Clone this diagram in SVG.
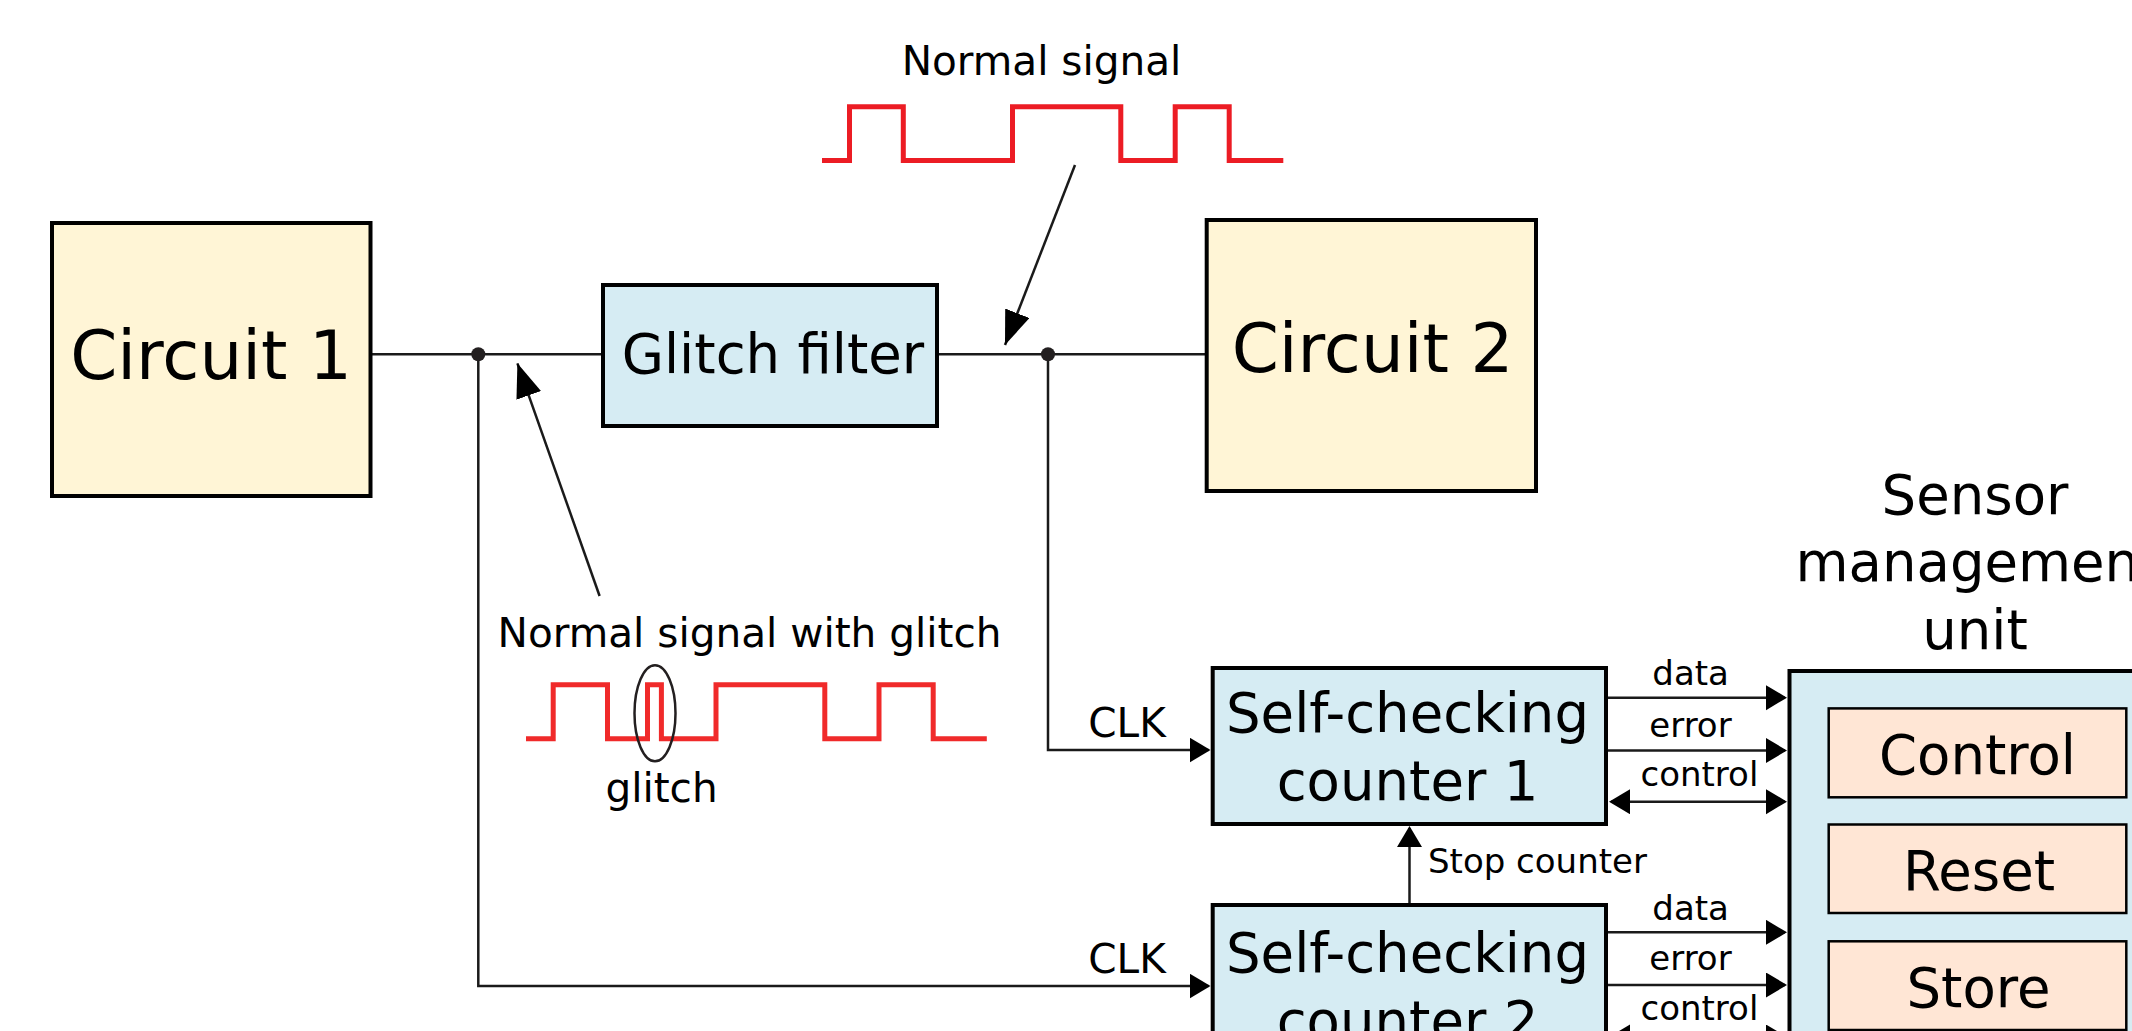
<svg xmlns="http://www.w3.org/2000/svg" width="2132" height="1031" viewBox="0 0 2132 1031">
<style>
text{font-family:"DejaVu Sans","Liberation Sans",sans-serif;fill:#000}
.box{stroke:#000;stroke-width:4}
.cream{fill:#fff5d6}
.blue{fill:#d6ecf3}
.peach{fill:#ffe6d5;stroke:#000;stroke-width:2.5}
.wire{fill:none;stroke:#1a1a1a;stroke-width:2.5}
.wave{fill:none;stroke:#ec1c24;stroke-width:5;stroke-linejoin:miter}
.t66{font-size:67.5px}
.t54{font-size:54.5px}
.t40{font-size:40.6px}
.t32{font-size:34px}
</style>
<defs>
<marker id="arr" markerUnits="userSpaceOnUse" markerWidth="22" markerHeight="26" refX="19" refY="12.5" orient="auto-start-reverse">
<path d="M0,0 L21,12.5 L0,25 z" fill="#000"/>
</marker>
<marker id="big" markerUnits="userSpaceOnUse" markerWidth="36" markerHeight="28" refX="34" refY="13" orient="auto">
<path d="M0,0 L34,13 L0,26 z" fill="#000"/>
</marker>
</defs>

<g id="connectors">
<path class="wire" d="M370,354.3 H603"/>
<path class="wire" d="M937,354.3 H1207"/>
<path class="wire" d="M1048,354.3 V750 H1208.5" marker-end="url(#arr)"/>
<path class="wire" d="M478.3,354.3 V986 H1208.5" marker-end="url(#arr)"/>
<circle cx="478.3" cy="354.3" r="7" fill="#231f20"/>
<circle cx="1048" cy="354.3" r="7" fill="#231f20"/>
<path class="wire" d="M1409.5,903 V828" marker-end="url(#arr)"/>
<path class="wire" d="M1608,697.7 H1785" marker-end="url(#arr)"/>
<path class="wire" d="M1608,750.5 H1785" marker-end="url(#arr)"/>
<path class="wire" d="M1611,801.7 H1785" marker-start="url(#arr)" marker-end="url(#arr)"/>
<path class="wire" d="M1608,932.3 H1785" marker-end="url(#arr)"/>
<path class="wire" d="M1608,985 H1785" marker-end="url(#arr)"/>
<path class="wire" d="M1611,1037 H1785" marker-start="url(#arr)" marker-end="url(#arr)"/>
<path class="wire" d="M1075,165 L1005,345" marker-end="url(#big)"/>
<path class="wire" d="M599.6,596 L517.4,363.3" marker-end="url(#big)"/>
</g>

<g id="circuit1">
<rect class="box cream" x="52" y="223" width="318.5" height="273"/>
<text class="t66" x="211" y="379" text-anchor="middle">Circuit 1</text>
</g>

<g id="glitch-filter">
<rect class="box blue" x="603" y="285" width="334" height="141"/>
<text class="t54" x="773" y="372.7" text-anchor="middle">Glitch filter</text>
</g>

<g id="circuit2">
<rect class="box cream" x="1206.7" y="220" width="329.3" height="271"/>
<text class="t66" x="1372.5" y="372" text-anchor="middle">Circuit 2</text>
</g>

<g id="normal-signal">
<text class="t40" x="1041.5" y="75" text-anchor="middle">Normal signal</text>
<path class="wave" d="M822,160.5 H849.5 V106.7 H903.3 V160.5 H1012.5 V106.7 H1120.8 V160.5 H1175.2 V106.7 H1229.2 V160.5 H1283.3"/>
</g>

<g id="glitch-signal">
<text class="t40" x="749.5" y="646.7" text-anchor="middle">Normal signal with glitch</text>
<path class="wave" d="M526,738.7 H553.2 V684.8 H607.5 V738.7 H647.5 V684.8 H661.4 V738.7 H716 V684.8 H824.8 V738.7 H879 V684.8 H933.2 V738.7 H986.8" style="stroke:#f02a2a"/>
<ellipse cx="655" cy="713.3" rx="20.5" ry="48" fill="none" stroke="#231f20" stroke-width="2.5"/>
<text class="t40" x="661.5" y="801.7" text-anchor="middle">glitch</text>
</g>

<g id="clk-labels">
<text class="t40" x="1127" y="737" text-anchor="middle">CLK</text>
<text class="t40" x="1127" y="972.7" text-anchor="middle">CLK</text>
</g>

<g id="counter1">
<rect class="box blue" x="1212.7" y="668" width="393.3" height="156"/>
<text class="t54" x="1407.5" y="731.7" text-anchor="middle">Self-checking</text>
<text class="t54" x="1407.5" y="800" text-anchor="middle">counter 1</text>
</g>

<g id="counter2">
<rect class="box blue" x="1212.7" y="905" width="393.3" height="156"/>
<text class="t54" x="1407.5" y="971.7" text-anchor="middle">Self-checking</text>
<text class="t54" x="1407.5" y="1040" text-anchor="middle">counter 2</text>
</g>

<g id="signal-labels">
<text class="t32" x="1428" y="873">Stop counter</text>
<text class="t32" x="1690.6" y="685" text-anchor="middle">data</text>
<text class="t32" x="1690.5" y="736.7" text-anchor="middle">error</text>
<text class="t32" x="1699.4" y="785.7" text-anchor="middle">control</text>
<text class="t32" x="1690.6" y="920" text-anchor="middle">data</text>
<text class="t32" x="1690.5" y="970" text-anchor="middle">error</text>
<text class="t32" x="1699.4" y="1020" text-anchor="middle">control</text>
</g>

<g id="sensor-management-unit">
<text class="t54" x="1975" y="513.5" text-anchor="middle">Sensor</text>
<text class="t54" x="1978" y="581.3" text-anchor="middle">management</text>
<text class="t54" x="1975" y="649.2" text-anchor="middle">unit</text>
<rect class="box blue" x="1789.5" y="671" width="375" height="500"/>
<g id="smu-control">
<rect class="peach" x="1828.7" y="708.4" width="297.6" height="88.9"/>
<text class="t54" x="1977.5" y="773.6" text-anchor="middle">Control</text>
</g>
<g id="smu-reset">
<rect class="peach" x="1828.7" y="824.5" width="297.6" height="88.5"/>
<text class="t54" x="1979" y="890.4" text-anchor="middle">Reset</text>
</g>
<g id="smu-store">
<rect class="peach" x="1828.7" y="941.3" width="297.6" height="88.7"/>
<text class="t54" x="1978.5" y="1007.3" text-anchor="middle">Store</text>
</g>
</g>
</svg>
